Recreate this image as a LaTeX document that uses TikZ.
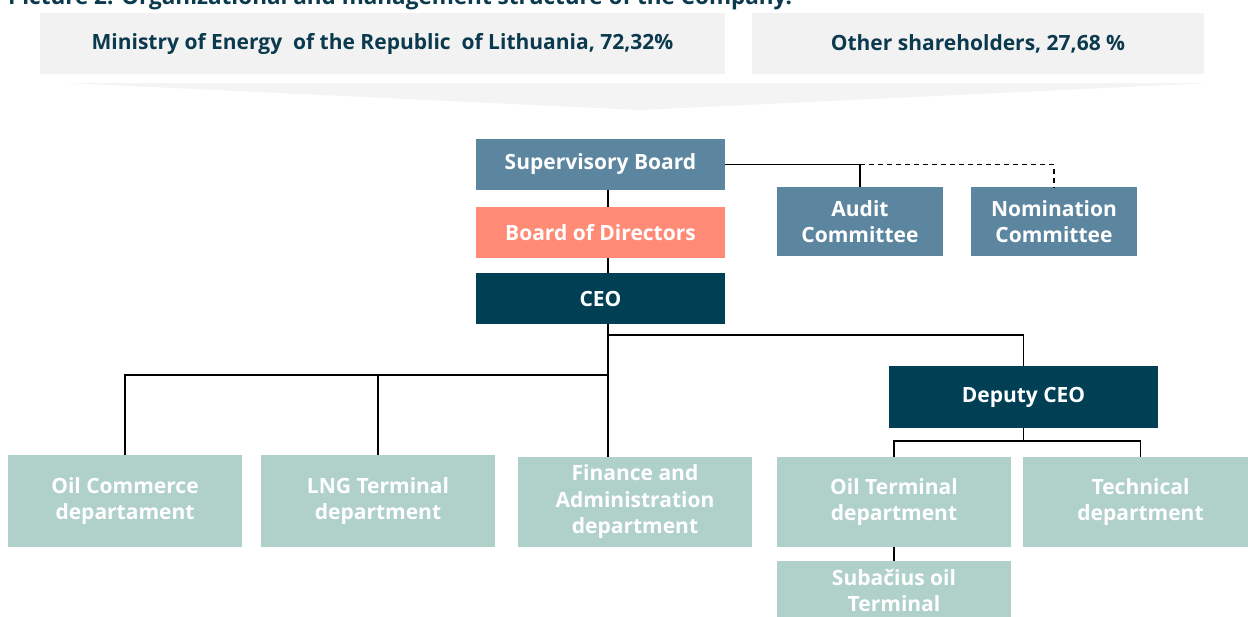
\documentclass[tikz,border=0pt]{standalone}
\usepackage{fontspec}
\setmainfont{Open Sans}
\begin{document}
\begin{tikzpicture}[x=1pt,y=-1pt,
  every node/.style={font=\bfseries\fontsize{21}{26.5}\selectfont, align=center, inner sep=0pt},
  box/.style={minimum width=#1},
  share/.style={fill=shgray, text=navy, minimum height=61pt},
  board/.style={fill=steel, text=white},
  bod/.style={fill=salmon, text=white},
  exec/.style={fill=deepteal, text=white},
  dept/.style={fill=mint, text=white},
  link/.style={line width=1.4pt, black}
]
\definecolor{navy}{HTML}{0B3A4E}
\definecolor{shgray}{HTML}{F2F2F2}
\definecolor{chev}{HTML}{F4F4F4}
\definecolor{steel}{HTML}{5C86A0}
\definecolor{salmon}{HTML}{FF8A76}
\definecolor{deepteal}{HTML}{003F54}
\definecolor{mint}{HTML}{B0D1C9}

\useasboundingbox (0,0) rectangle (1248,616);
\fill[white] (0,0) rectangle (1248,616);

% caption, partly above the page edge
\node[anchor=base west, text=navy, font=\bfseries\fontsize{22.5}{27}\selectfont] (title) at (8,4) {Picture 2. Organizational and management structure of the Company.};

% shareholders
\node[share, box=685pt] (min) at (382.5,43.5) {Ministry of Energy\ \ of the Republic\ \ of Lithuania, 72,32\%};
\node[share, box=452pt] (oth) at (978,43.5) {Other shareholders, 27,68 \%};
\fill[chev] (67,83) -- (1210,83) -- (640,110) -- cycle;

% governance
\node[board, box=249pt, minimum height=51pt] (sb) at (600.5,164.5) {Supervisory Board};
\node[bod, box=249pt, minimum height=51pt] (bd) at (600.5,232.5) {Board of Directors};
\node[exec, box=249pt, minimum height=51pt] (ceo) at (600.5,298.5) {CEO};
\node[board, box=166pt, minimum height=69pt] (audit) at (860,221.5) {Audit\\Committee};
\node[board, box=166pt, minimum height=69pt] (nom) at (1054,221.5) {Nomination\\Committee};
\node[exec, box=269pt, minimum height=62pt] (dep) at (1023.5,397) {Deputy CEO};

% departments
\node[dept, box=234pt, minimum height=92pt] (oc) at (125,501) {Oil Commerce\\departament};
\node[dept, box=234pt, minimum height=92pt] (lng) at (378,501) {LNG Terminal\\department};
\node[dept, box=234pt, minimum height=90pt] (fin) at (635,502) {Finance and\\Administration\\department};
\node[dept, box=234pt, minimum height=90pt] (ot) at (894,502) {Oil Terminal\\department};
\node[dept, box=235pt, minimum height=90pt] (tech) at (1140.5,502) {Technical\\department};
\node[dept, box=234pt, minimum height=78pt, anchor=north] (sub) at (894,561) {};
\node[anchor=north, text=white] (subtxt) at (894,569) {Subačius oil\\Terminal};

% connectors
\coordinate (spine) at (608,0);
\coordinate (cbus) at (0,335);
\coordinate (lbus) at (0,375);
\coordinate (kbus) at (0,441);

\draw[link] (sb.east) -- (sb.east -| audit.north) -- (audit.north);
\draw[link, dashed, dash pattern=on 5pt off 4pt] (sb.east -| audit.north) -- (sb.east -| nom.north) -- (nom.north);
\draw[link] (sb.south -| spine) -- (bd.north -| spine);
\draw[link] (bd.south -| spine) -- (ceo.north -| spine);
\draw[link] (ceo.south -| spine) -- (fin.north -| spine);
\draw[link] (cbus -| spine) -- (cbus -| dep.north) -- (dep.north);
\draw[link] (lbus -| spine) -- (lbus -| oc.north) -- (oc.north);
\draw[link] (lbus -| lng.north) -- (lng.north);
\draw[link] (dep.south) -- (kbus -| dep.south);
\draw[link] (ot.north) -- (kbus -| ot.north) -- (kbus -| tech.north) -- (tech.north);
\draw[link] (ot.south) -- (sub.north);
\end{tikzpicture}
\end{document}
